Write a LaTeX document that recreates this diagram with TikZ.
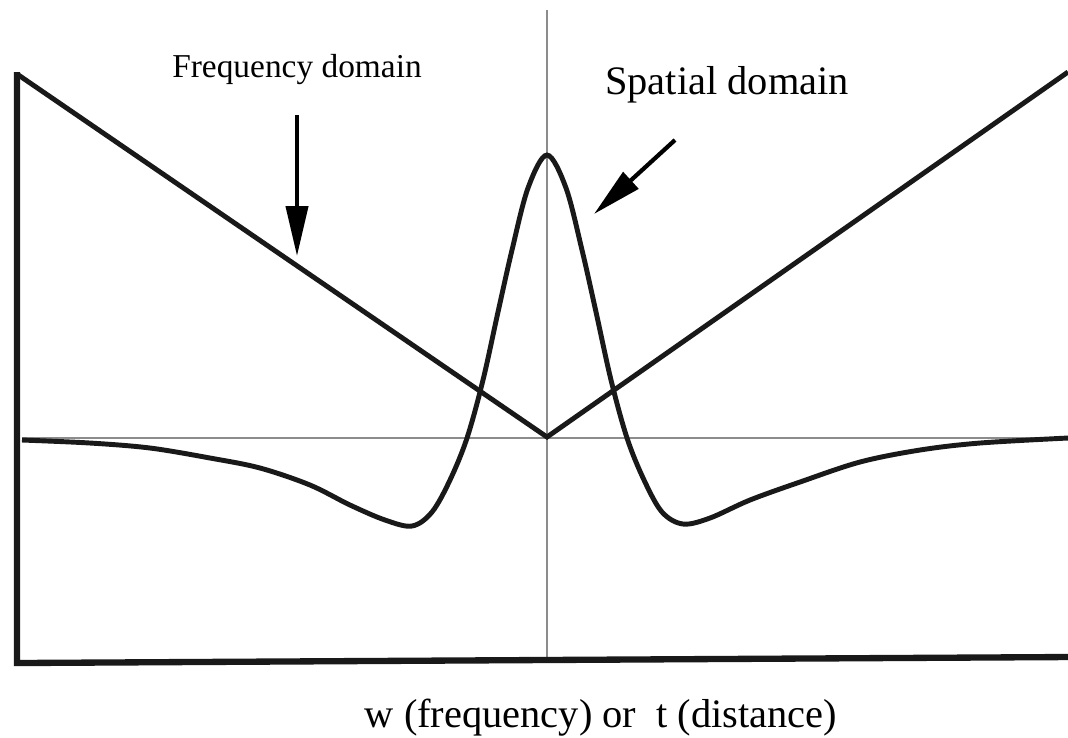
\documentclass[tikz,border=0pt]{standalone}
\usepackage{fontspec}
\setmainfont{Liberation Serif}
\usetikzlibrary{arrows.meta}
\tikzset{
  curve/.style={line width=1.4pt, black!90},
  guide/.style={line width=0.6pt, black!45},
  pointer/.style={line width=1.2pt, -{Triangle[length=5mm,width=2.2mm]}}
}
\begin{document}
\begin{tikzpicture}[x=0.1mm,y=-0.1mm]
\useasboundingbox (0,0) rectangle (1068,737);
\coordinate (top) at (547,10);
\coordinate (bot) at (547,663);
\coordinate (hl) at (22,438);
\coordinate (hr) at (1068,438);
\draw[guide](top) -- (bot);
\draw[guide](hl) -- (hr);
\coordinate (origin) at (17,663);
\coordinate (ytop) at (17,72);
\coordinate (xend) at (1068,657);
\draw[curve, line width=1.8pt](ytop) -- (origin) -- (xend);
\coordinate (vl) at (17,74);
\coordinate (vc) at (547,437);
\coordinate (vr) at (1068,72);
\draw[curve](vl) -- (vc) -- (vr);
\draw[curve] plot[smooth, tension=0.55] coordinates {
  (22,440) (90,443) (150,448) (210,458) (260,468) (310,485) (350,505)
  (385,520) (412,526) (432,512) (450,480) (467,438) (483,380) (498,312)
  (512,250) (528,188) (547,155) (566,188) (582,250) (596,312) (611,380)
  (627,438) (644,480) (662,512) (683,524) (710,518) (750,500) (800,482)
  (860,462) (920,450) (980,443) (1068,438)};
\node[font=\fontsize{9.5}{11}\selectfont] (freq) at (297,70){Frequency domain};
\node[font=\fontsize{11.5}{14}\selectfont] (spat) at (727,85){Spatial domain};
\node[font=\fontsize{11.5}{14}\selectfont] (axis) at (601,718){w (frequency) or\ \ t (distance)};
\coordinate (freqtail) at (297,115);
\coordinate (freqtip) at (297,256);
\draw[pointer](freqtail) -- (freqtip);
\coordinate (spattail) at (675,140);
\coordinate (spattip) at (594,214);
\draw[pointer](spattail) -- (spattip);
\end{tikzpicture}
\end{document}
